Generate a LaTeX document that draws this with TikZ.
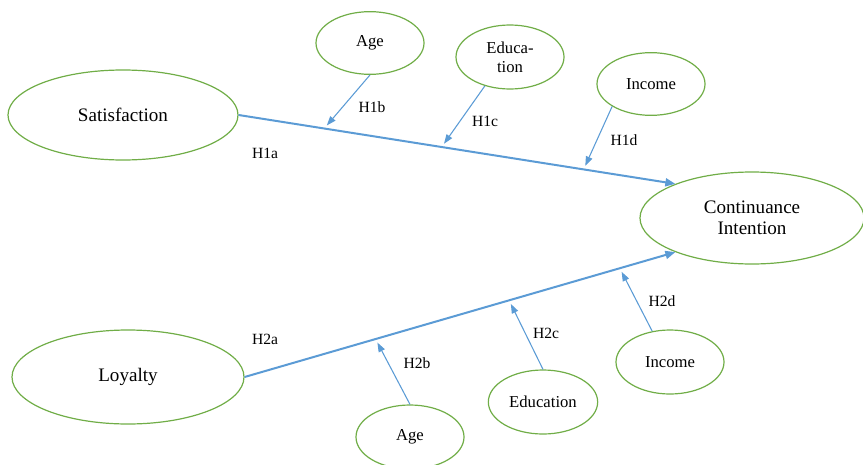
\documentclass[tikz,border=0pt]{standalone}
\usepackage{fontspec}
\setmainfont{Liberation Serif}
\usetikzlibrary{shapes.geometric,arrows.meta,positioning}
\definecolor{ovalgreen}{RGB}{112,173,71}
\definecolor{pathblue}{RGB}{91,155,213}

\begin{document}
\begin{tikzpicture}[x=0.75pt,y=-0.75pt,
	construct/.style={ellipse,draw=ovalgreen,line width=0.9pt,inner sep=0pt,align=center,font=\fontsize{14.3}{16}\selectfont},
	moderator/.style={ellipse,draw=ovalgreen,line width=0.9pt,inner sep=0pt,align=center,minimum width=81pt,minimum height=47pt,font=\fontsize{12.5}{14}\selectfont},
	mainpath/.style={draw=pathblue,line width=1.5pt,-{Triangle[length=7.5pt,width=6pt]}},
	modpath/.style={draw=pathblue,line width=0.8pt,-{Triangle[length=7pt,width=5pt]},shorten >=3pt},
	hyp/.style={inner sep=0pt,font=\fontsize{11.7}{14}\selectfont}]
			\useasboundingbox (0,0) rectangle (863,464);
			
			% constructs
			\node[construct,minimum width=172.5pt,minimum height=67.5pt] (sat) at (123,115) {Satisfaction};
			\node[construct,minimum width=174pt,minimum height=70.5pt] (loy) at (128,377) {Loyalty};
			\node[construct,minimum width=168pt,minimum height=69pt] (ci) at (752,218) {Continuance\\Intention};
			
			% moderators
			\node[moderator] (ageT) at (370,43) {Age};
			\node[moderator,minimum height=48pt] (eduT) at (510,57) {Educa-\\tion};
			\node[moderator] (incT) at (651,84) {Income};
			\node[moderator,minimum height=48pt] (ageB) at (410,437) {Age};
			\node[moderator,minimum width=82pt,minimum height=48pt] (eduB) at (543,402) {Education};
			\node[moderator,minimum height=48pt] (incB) at (670,362) {Income};
			
			% main paths
			\draw[mainpath] (sat.east) -- (ci.156)
				coordinate[pos=0.196] (onH1b)
				coordinate[pos=0.465] (onH1c)
				coordinate[pos=0.79] (onH1d);
			\draw[mainpath] (loy.east) -- (ci.204)
				coordinate[pos=0.304] (onH2b)
				coordinate[pos=0.614] (onH2c)
				coordinate[pos=0.871] (onH2d);
			
			% moderating paths
			\draw[modpath] (ageT.south) -- (onH1b);
			\draw[modpath] (eduT.229) -- (onH1c);
			\draw[modpath] (incT.210) -- (onH1d);
			\draw[modpath] (ageB.north) -- (onH2b);
			\draw[modpath] (eduB.north) -- (onH2c);
			\draw[modpath] (incB.120) -- (onH2d);
			
			% hypotheses
			\node[hyp] (h1a) at (265,153) {H1a};
			\node[hyp] (h1b) at (372,107) {H1b};
			\node[hyp] (h1c) at (485,121) {H1c};
			\node[hyp] (h1d) at (624,140) {H1d};
			\node[hyp] (h2a) at (265,339) {H2a};
			\node[hyp] (h2b) at (417,363) {H2b};
			\node[hyp] (h2c) at (546,333) {H2c};
			\node[hyp] (h2d) at (662,301) {H2d};
		\end{tikzpicture}
\end{document}
